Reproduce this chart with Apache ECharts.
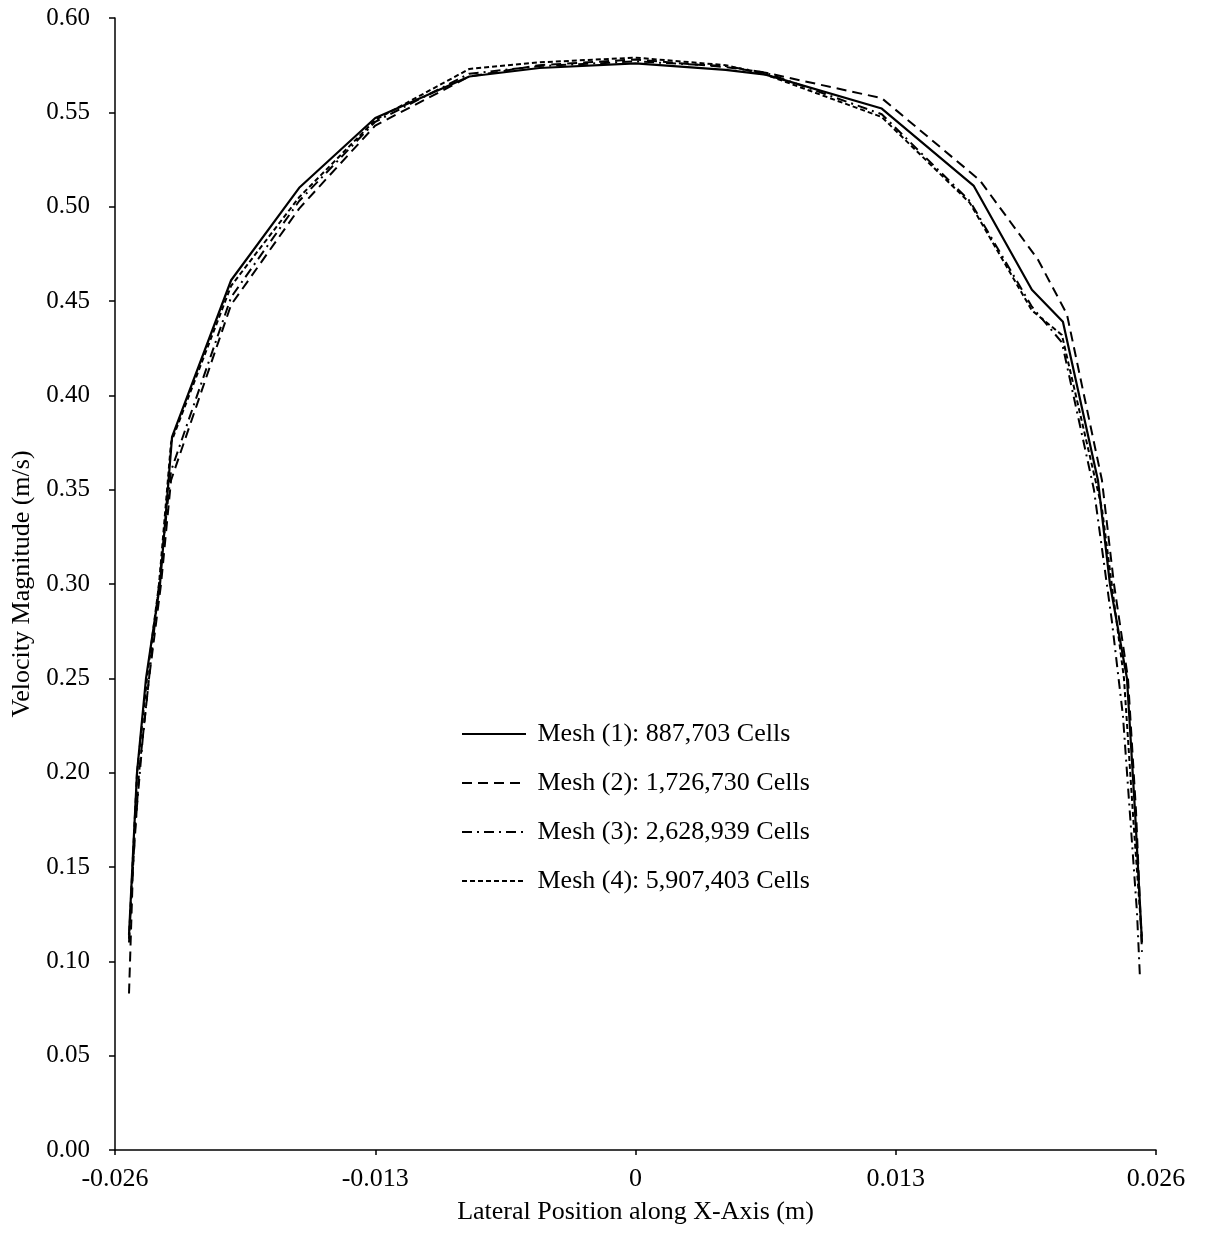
<!DOCTYPE html>
<html>
<head>
<meta charset="utf-8">
<title>Mesh independence - velocity profile</title>
<script src="https://cdn.jsdelivr.net/npm/echarts@6/dist/echarts.min.js"></script>
<style>
  html, body { margin: 0; padding: 0; background: #fff; }
  #chart { width: 1205px; height: 1236px; }
</style>
</head>
<body>
<div id="chart"></div>
<script>
// legend names
const seriesNames = [
  'Mesh (1): 887,703 Cells',
  'Mesh (2): 1,726,730 Cells',
  'Mesh (3): 2,628,939 Cells',
  'Mesh (4): 5,907,403 Cells'
]

// [lateral position (m), velocity magnitude (m/s)]
const mesh1 = [
  [-0.0253, 0.114], [-0.0249, 0.20], [-0.02445, 0.25], [-0.02375, 0.30], [-0.0234, 0.345],
  [-0.02315, 0.378], [-0.0202, 0.461], [-0.0168, 0.510], [-0.0130, 0.547], [-0.0083, 0.569],
  [-0.0048, 0.5735], [0, 0.576], [0.0045, 0.5725], [0.0065, 0.570], [0.0123, 0.552],
  [0.0169, 0.511], [0.0198, 0.456], [0.02135, 0.439], [0.0231, 0.355], [0.0237, 0.30],
  [0.02455, 0.25], [0.02495, 0.18], [0.0253, 0.110]
]
const mesh2 = [
  [-0.0253, 0.083], [-0.0251, 0.15], [-0.0248, 0.20], [-0.0243, 0.25], [-0.0237, 0.30],
  [-0.0232, 0.355], [-0.0202, 0.448], [-0.0168, 0.499], [-0.0130, 0.543], [-0.0083, 0.569],
  [-0.0048, 0.575], [0, 0.578], [0.0045, 0.574], [0.0065, 0.571], [0.0123, 0.5575],
  [0.0172, 0.514], [0.0201, 0.472], [0.02155, 0.443], [0.0233, 0.355], [0.0239, 0.30],
  [0.0246, 0.25], [0.0250, 0.18], [0.0253, 0.105]
]
const mesh3 = [
  [-0.0253, 0.11], [-0.0250, 0.17], [-0.0246, 0.22], [-0.0241, 0.27], [-0.0236, 0.32],
  [-0.0232, 0.36], [-0.0202, 0.452], [-0.0168, 0.503], [-0.0130, 0.545], [-0.0083, 0.5705],
  [-0.0048, 0.5745], [0, 0.577], [0.0045, 0.5745], [0.0065, 0.571], [0.0123, 0.549],
  [0.0167, 0.503], [0.0198, 0.447], [0.0213, 0.428], [0.0229, 0.35], [0.0238, 0.28],
  [0.02435, 0.23], [0.02505, 0.126], [0.0252, 0.091]
]
const mesh4 = [
  [-0.0253, 0.112], [-0.0249, 0.20], [-0.0244, 0.25], [-0.0238, 0.30], [-0.0232, 0.375],
  [-0.0202, 0.458], [-0.0168, 0.505], [-0.0130, 0.546], [-0.0083, 0.573], [-0.0048, 0.5765],
  [0, 0.579], [0.0045, 0.575], [0.0065, 0.570], [0.0123, 0.5475], [0.0167, 0.502],
  [0.0198, 0.445], [0.0213, 0.432], [0.0233, 0.34], [0.0244, 0.25], [0.0249, 0.17],
  [0.0253, 0.112]
]

const fontFamily = "'Times New Roman', 'Liberation Serif', serif"

const myChart = echarts.init(document.getElementById('chart'))

function lineSeries (name, data, type, width) {
  return {
    name: name,
    type: 'line',
    data: data,
    symbol: 'none',
    smooth: false,
    lineStyle: {
      color: '#000',
      width: width,
      type: type
    },
    itemStyle: { color: '#000' },
    z: 2
  }
}

myChart.setOption({
  animation: false,
  backgroundColor: '#fff',
  textStyle: { fontFamily: fontFamily, color: '#000' },

  grid: {
    left: 115,
    right: 49,
    top: 18,
    bottom: 86,
    containLabel: false
  },

  legend: {
    show: true,
    orient: 'vertical',
    left: 456,
    top: 716,
    itemWidth: 64,
    itemHeight: 14,
    itemGap: 23,
    data: seriesNames,
    // hide the marker dot, keep only the line sample
    itemStyle: { opacity: 0 },
    formatter: function (name) {
      return '\u00a0' + name
    },
    textStyle: {
      fontFamily: fontFamily,
      fontSize: 26,
      color: '#000'
    }
  },

  xAxis: {
    type: 'value',
    min: -0.026,
    max: 0.026,
    interval: 0.013,
    name: 'Lateral Position along X-Axis (m)',
    nameLocation: 'middle',
    nameGap: 49,
    nameTextStyle: { fontFamily: fontFamily, fontSize: 26, color: '#000' },
    axisLine: { show: true, onZero: false, lineStyle: { color: '#000', width: 1.5 } },
    axisTick: { show: true, length: 5, lineStyle: { color: '#000', width: 1.5 } },
    splitLine: { show: false },
    axisLabel: {
      fontFamily: fontFamily,
      fontSize: 26,
      color: '#000',
      margin: 16,
      formatter: function (v) {
        const r = Math.round(v * 1000) / 1000
        return r === 0 ? '0' : r.toFixed(3)
      }
    }
  },

  yAxis: {
    type: 'value',
    min: 0,
    max: 0.6,
    interval: 0.05,
    name: 'Velocity Magnitude (m/s)',
    nameLocation: 'middle',
    nameGap: 77,
    nameRotate: 90,
    nameTextStyle: { fontFamily: fontFamily, fontSize: 26, color: '#000' },
    axisLine: { show: true, onZero: false, lineStyle: { color: '#000', width: 1.5 } },
    axisTick: { show: true, length: 6, lineStyle: { color: '#000', width: 1.5 } },
    splitLine: { show: false },
    axisLabel: {
      fontFamily: fontFamily,
      fontSize: 25,
      color: '#000',
      margin: 25,
      formatter: function (v) {
        return (Math.round(v * 100) / 100).toFixed(2)
      }
    }
  },

  series: [
    lineSeries(seriesNames[0], mesh1, 'solid', 2.2),
    lineSeries(seriesNames[1], mesh2, [10, 6], 2),
    lineSeries(seriesNames[2], mesh3, [10, 5, 2, 5], 2),
    lineSeries(seriesNames[3], mesh4, [5, 3], 2)
  ]
})
</script>
</body>
</html>
